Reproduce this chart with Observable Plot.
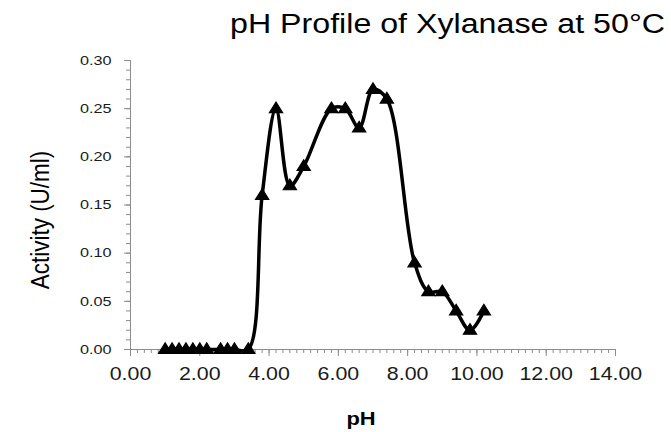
<!DOCTYPE html>
<html><head><meta charset="utf-8">
<script src="https://cdn.jsdelivr.net/npm/d3@7"></script>
<script src="https://cdn.jsdelivr.net/npm/@observablehq/plot@0.6"></script>
<style>
html,body{margin:0;padding:0;background:#fff;}
#chart{width:671px;height:432px;position:relative;overflow:hidden;font-family:"Liberation Sans",Arial,sans-serif;}
#title{height:45px;box-sizing:border-box;padding-top:11px;padding-right:6px;text-align:right;font-size:27px;line-height:27px;color:#000;white-space:nowrap;}
#title span{display:inline-block;transform-origin:right center;}
</style></head><body>
<div id="chart"><div id="title"><span id="titleText">pH Profile of Xylanase at 50°C</span></div></div>
<script>
// Data
const pH = [1.0, 1.2, 1.4, 1.6, 1.8, 2.0, 2.2, 2.6, 2.8, 3.0, 3.4, 3.8, 4.2, 4.6, 5.0, 5.8, 6.2, 6.6, 7.0, 7.4, 8.2, 8.6, 9.0, 9.4, 9.8, 10.2];
const activity = [0, 0, 0, 0, 0, 0, 0, 0, 0, 0, 0, 0.16, 0.25, 0.17, 0.19, 0.25, 0.25, 0.23, 0.27, 0.26, 0.09, 0.06, 0.06, 0.04, 0.02, 0.04];
const xTicks = [0, 2, 4, 6, 8, 10, 12, 14];
const yTicks = [0, 0.05, 0.10, 0.15, 0.20, 0.25, 0.30];
const xMinorStep = 0.2;
const yMinorStep = 0.01;

const data = pH.map((p, i) => ({pH: p, activity: activity[i]}));
const xMinor = d3.range(0, 14 + 1e-9, xMinorStep);
const yMinor = d3.range(0, 0.30 + 1e-9, yMinorStep);

// Excel-like triangle marker (slightly wide)
const triangle = {
  draw(ctx) {
    ctx.moveTo(0, -6.6);
    ctx.lineTo(6.6, 4.0);
    ctx.lineTo(-6.6, 4.0);
    ctx.closePath();
  }
};

const axisColor = "#8c8c8c";
const chart = Plot.plot({
  width: 671,
  height: 387,
  marginTop: 15,
  marginBottom: 83,
  marginLeft: 130,
  marginRight: 56,
  style: {fontFamily: "'Liberation Sans', Arial, sans-serif", background: "#fff", color: "#000", overflow: "visible"},
  x: {domain: [0, 14], label: null},
  y: {domain: [0, 0.30], label: null},
  marks: [
    Plot.axisY(yMinor, {tickSize: 4, tickFormat: () => "", stroke: axisColor, label: null}),
    Plot.axisY(yTicks, {tickSize: 6, tickPadding: 13, tickFormat: d => d.toFixed(2), fontSize: 13.5, stroke: axisColor, fill: "#1a1a1a", label: null}),
    Plot.axisX(xMinor, {tickSize: 4, tickFormat: () => "", stroke: axisColor, label: null}),
    Plot.axisX(xTicks, {tickSize: 7, tickPadding: 10.7, tickFormat: d => d.toFixed(2), fontSize: 18.5, stroke: axisColor, fill: "#1a1a1a", label: null}),
    Plot.ruleX([0], {stroke: axisColor}),
    Plot.ruleY([0], {stroke: axisColor}),
    Plot.line(data, {x: "pH", y: "activity", curve: "catmull-rom", stroke: "#000", strokeWidth: 3.5}),
    Plot.dot(data, {x: "pH", y: "activity", symbol: triangle, fill: "#000", stroke: "#000", strokeWidth: 1.2, r: 5}),
    Plot.text(["Activity (U/ml)"], {frameAnchor: "left", textAnchor: "middle", rotate: -90, dx: -90, dy: 15, fontSize: 22, fill: "#000"}),
    Plot.text(["pH"], {frameAnchor: "bottom", textAnchor: "middle", dy: 69, dx: -12, fontSize: 19, fontWeight: "bold", fill: "#000", lineAnchor: "middle"})
  ]
});
document.getElementById("chart").appendChild(chart);

// Horizontal stretch of text to mimic the reference's aspect
function stretch(el, k) {
  const w = el.getComputedTextLength();
  if (w > 0) {
    el.setAttribute("textLength", (w * k).toFixed(2));
    el.setAttribute("lengthAdjust", "spacingAndGlyphs");
  }
}
chart.querySelectorAll("text").forEach(t => {
  const txt = t.textContent;
  if (txt === "Activity (U/ml)") {
    t.style.fontSize = "22.5px";
    const tr = t.getAttribute("transform") || "";
    t.setAttribute("transform", tr + " scale(1,1.18)");
    return;
  }
  const fs = parseFloat(getComputedStyle(t).fontSize);
  if (txt === "pH") stretch(t, 1.15);
  else if (fs > 15) stretch(t, 1.155);
  else stretch(t, 1.2);
});
const ts = document.getElementById("titleText");
const k = 435 / ts.getBoundingClientRect().width;
ts.style.transform = `scaleX(${k})`;
</script>
</body></html>
